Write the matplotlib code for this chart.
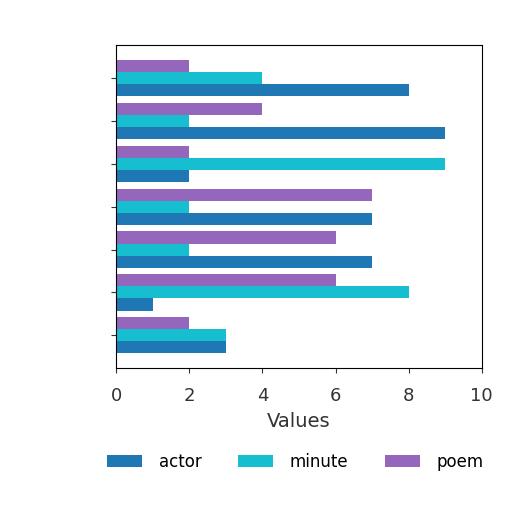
import matplotlib.pyplot as plt
import numpy as np

# categories bottom to top, no labels shown on the y axis
categories = ["c1", "c2", "c3", "c4", "c5", "c6", "c7"]
series_names = ["actor", "minute", "poem"]
actor = [3, 1, 7, 7, 2, 9, 8]
minute = [3, 8, 2, 2, 9, 2, 4]
poem = [2, 6, 6, 7, 2, 4, 2]
colors = ["#1f77b4", "#17becf", "#9467bd"]

fig = plt.figure(figsize=(5.12, 5.12), dpi=100)
ax = fig.add_axes([0.227, 0.281, 0.714, 0.631])

y = np.arange(len(categories))
h = 0.28
for i, vals in enumerate([actor, minute, poem]):
    ax.barh(y + (i - 1) * h, vals, height=h, color=colors[i], label=series_names[i])

ax.set_xlim(0, 10)
ax.set_xticks([0, 2, 4, 6, 8, 10])
ax.set_yticks(y)
ax.set_yticklabels([])
ax.tick_params(axis="x", labelsize=13, colors="#333333", pad=10)
ax.tick_params(colors="#333333")
ax.set_xlabel("Values", fontsize=14, color="#333333", labelpad=5)

ax.legend(loc="upper center", bbox_to_anchor=(0.49, -0.215), ncol=3, fontsize=12,
          frameon=False, handlelength=2.1, handletextpad=1.0, columnspacing=2.2)

fig.savefig("out.png", dpi=100)
